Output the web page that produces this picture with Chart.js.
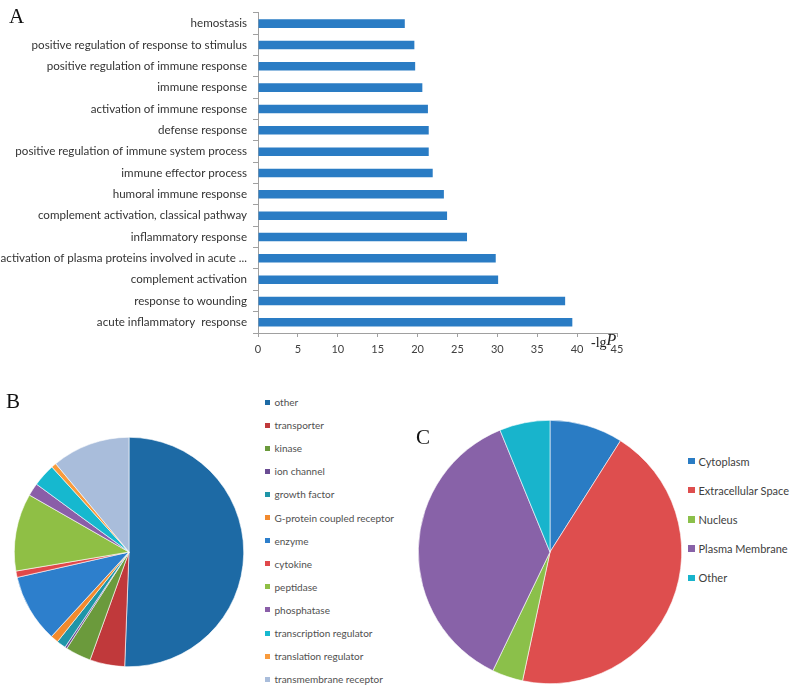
<!DOCTYPE html>
<html>
<head>
<meta charset="utf-8">
<script src="https://cdn.jsdelivr.net/npm/chart.js@4/dist/chart.umd.min.js"></script>
<style>
  body { margin: 0; background: #fff; }
  #page { position: relative; width: 800px; height: 690px; background: #fff; overflow: hidden; }
  canvas { position: absolute; }
  .panel { position: absolute; font-family: "Liberation Serif", serif; font-size: 21px; color: #111; line-height: 1; }
  .legend { position: absolute; margin: 0; padding: 0; list-style: none; font-family: Lato, sans-serif; }
  .legend li { position: absolute; white-space: nowrap; display: flex; align-items: center; }
  .legend span.box { display: inline-block; }
</style>
</head>
<body>
<div id="page">
  <canvas id="barChart" width="640" height="370" style="left:0;top:0;"></canvas>
  <canvas id="pieB" width="230" height="230" style="left:14px;top:437px;"></canvas>
  <canvas id="pieC" width="264" height="264" style="left:418px;top:420px;"></canvas>
  <div class="panel" style="left:9px;top:6px;">A</div>
  <div class="panel" style="left:6px;top:391px;">B</div>
  <div class="panel" style="left:416px;top:427px;">C</div>
  <ul class="legend" id="legendB"></ul>
  <ul class="legend" id="legendC"></ul>
</div>
<script>
// A: GO terms, -lgP
const goTerms = [
    'hemostasis',
    'positive regulation of response to stimulus',
    'positive regulation of immune response',
    'immune response',
    'activation of immune response',
    'defense response',
    'positive regulation of immune system process',
    'immune effector process',
    'humoral immune response',
    'complement activation, classical pathway',
    'inflammatory response',
    'activation of plasma proteins involved in acute ...',
    'complement activation',
    'response to wounding',
    'acute inflammatory  response'
];
const goValues = [18.4, 19.6, 19.7, 20.6, 21.3, 21.4, 21.4, 21.9, 23.3, 23.7, 26.2, 29.8, 30.1, 38.5, 39.4];
const xTicks = [0, 5, 10, 15, 20, 25, 30, 35, 40, 45];

// B: molecule types
const typeLabels = ['other', 'transporter', 'kinase', 'ion channel', 'growth factor', 'G-protein coupled receptor',
    'enzyme', 'cytokine', 'peptidase', 'phosphatase', 'transcription regulator', 'translation regulator', 'transmembrane receptor'];
const typeValues = [50.5, 4.9, 3.6, 0.3, 1.3, 1.1, 9.6, 0.9, 10.9, 1.8, 3.2, 0.7, 11.0];
const typeColors = ['#1d6aa5', '#c0393b', '#6b9a3c', '#6a4c93', '#1f95a8', '#f28a2e',
    '#2d7fcc', '#e0484a', '#8fbf45', '#8a5ea8', '#16b8cf', '#f99b3c', '#a9bddb'];

// C: cellular location
const locLabels = ['Cytoplasm', 'Extracellular Space', 'Nucleus', 'Plasma Membrane', 'Other'];
const locValues = [9.0, 44.4, 3.8, 36.7, 6.2];
const locColors = ['#2a7cc4', '#de4e4e', '#8bc04a', '#8862a8', '#18b4cc'];

const barColor = '#2a7cc4';
const axisColor = '#a0a0a0';

// -lgP label drawn next to the end of the x axis
const lgPLabel = {
    id: 'lgPLabel',
    afterDraw(chart) {
        const ctx = chart.ctx;
        ctx.save();
        ctx.fillStyle = '#222';
        ctx.textBaseline = 'alphabetic';
        ctx.font = '14px "Liberation Serif", serif';
        ctx.fillText('-lg', 591, 347);
        const w = ctx.measureText('-lg').width;
        ctx.font = 'italic 16px "Liberation Serif", serif';
        ctx.fillText('P', 591 + w, 345);
        ctx.restore();
    }
};

new Chart(document.getElementById('barChart'), {
    type: 'bar',
    data: {
        labels: goTerms,
        datasets: [{
            data: goValues,
            backgroundColor: barColor,
            barPercentage: 0.4,
            categoryPercentage: 1
        }]
    },
    options: {
        indexAxis: 'y',
        responsive: false,
        animation: false,
        layout: { padding: { top: 9, right: 23, left: 0, bottom: 0 } },
        plugins: { legend: { display: false }, tooltip: { enabled: false } },
        scales: {
            x: {
                min: 0,
                max: 45,
                afterBuildTicks: (s) => { s.ticks = xTicks.map(v => ({ value: v })); },
                afterFit: (s) => { s.height = 37; },
                grid: { drawOnChartArea: false, tickLength: 4, color: axisColor },
                border: { color: axisColor },
                ticks: { color: '#404040', padding: 6, font: { family: 'Lato', size: 11 } }
            },
            y: {
                afterFit: (s) => { s.width = 258; },
                grid: { drawOnChartArea: false, tickLength: 5, color: axisColor },
                border: { color: axisColor },
                ticks: { color: '#333', padding: 6, font: { family: 'Lato', size: 11.6 } }
            }
        }
    },
    plugins: [lgPLabel]
});

function pieChart(id, labels, values, colors) {
    return new Chart(document.getElementById(id), {
        type: 'pie',
        data: {
            labels: labels,
            datasets: [{ data: values, backgroundColor: colors, borderColor: '#fff', borderWidth: 0.6 }]
        },
        options: {
            responsive: false,
            animation: false,
            plugins: { legend: { display: false }, tooltip: { enabled: false } }
        }
    });
}

function buildLegend(chart, elId, left, top, step, box, gap, fontSize, color) {
    const ul = document.getElementById(elId);
    ul.style.left = left + 'px';
    ul.style.top = top + 'px';
    const ds = chart.data.datasets[0];
    chart.data.labels.forEach((label, i) => {
        const li = document.createElement('li');
        li.style.top = (i * step - fontSize) + 'px';
        li.style.height = (fontSize * 2) + 'px';
        li.style.fontSize = fontSize + 'px';
        li.style.color = color;
        const sq = document.createElement('span');
        sq.className = 'box';
        sq.style.width = box + 'px';
        sq.style.height = box + 'px';
        sq.style.background = ds.backgroundColor[i];
        sq.style.marginRight = gap + 'px';
        li.appendChild(sq);
        li.appendChild(document.createTextNode(label));
        ul.appendChild(li);
    });
}

const chartB = pieChart('pieB', typeLabels, typeValues, typeColors);
const chartC = pieChart('pieC', locLabels, locValues, locColors);
buildLegend(chartB, 'legendB', 265, 402, 23.1, 5, 4.5, 10, '#505050');
buildLegend(chartC, 'legendC', 688, 461, 29.2, 6.5, 4, 11, '#404040');
</script>
</body>
</html>
